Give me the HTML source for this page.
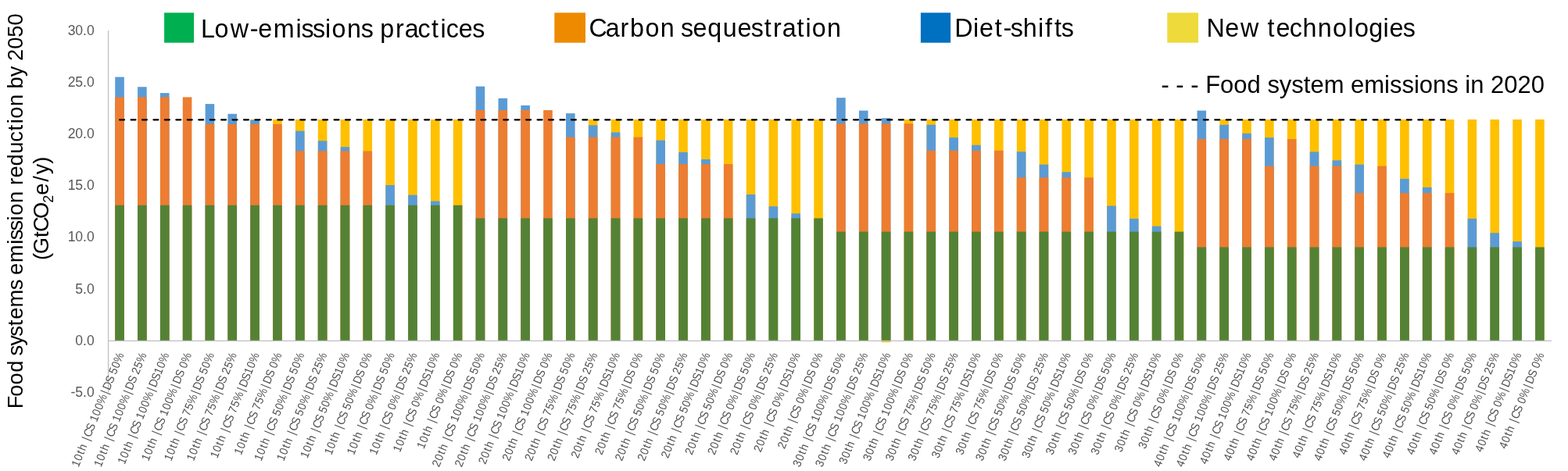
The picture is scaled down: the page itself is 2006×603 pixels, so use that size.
<!DOCTYPE html>
<html><head><meta charset="utf-8"><title>Food systems emission reduction by 2050</title>
<style>
html,body{margin:0;padding:0;background:#fff;}
body{width:2006px;height:603px;overflow:hidden;}
svg{display:block;}
text{font-family:"Liberation Sans",Arial,sans-serif;white-space:pre;}
</style></head><body>
<svg width="2006" height="603" viewBox="0 0 2006 603">
<rect width="2006" height="603" fill="#fff"/>

<rect x="147.25" y="98.57" width="11.6" height="337.63" fill="#5B9BD5"/>
<rect x="147.25" y="124.37" width="11.6" height="311.83" fill="#ED7D31"/>
<rect x="147.25" y="262.75" width="11.6" height="173.45" fill="#548235"/>
<rect x="176.09" y="111.27" width="11.6" height="324.93" fill="#5B9BD5"/>
<rect x="176.09" y="124.37" width="11.6" height="311.83" fill="#ED7D31"/>
<rect x="176.09" y="262.75" width="11.6" height="173.45" fill="#548235"/>
<rect x="204.93" y="119.08" width="11.6" height="317.12" fill="#5B9BD5"/>
<rect x="204.93" y="124.37" width="11.6" height="311.83" fill="#ED7D31"/>
<rect x="204.93" y="262.75" width="11.6" height="173.45" fill="#548235"/>
<rect x="233.77" y="124.37" width="11.6" height="311.83" fill="#ED7D31"/>
<rect x="233.77" y="262.75" width="11.6" height="173.45" fill="#548235"/>
<rect x="262.61" y="133.10" width="11.6" height="303.10" fill="#5B9BD5"/>
<rect x="262.61" y="158.90" width="11.6" height="277.30" fill="#ED7D31"/>
<rect x="262.61" y="262.75" width="11.6" height="173.45" fill="#548235"/>
<rect x="291.44" y="145.80" width="11.6" height="290.40" fill="#5B9BD5"/>
<rect x="291.44" y="158.90" width="11.6" height="277.30" fill="#ED7D31"/>
<rect x="291.44" y="262.75" width="11.6" height="173.45" fill="#548235"/>
<rect x="320.28" y="152.95" width="11.6" height="283.25" fill="#FFC000"/>
<rect x="320.28" y="153.61" width="11.6" height="282.59" fill="#5B9BD5"/>
<rect x="320.28" y="158.90" width="11.6" height="277.30" fill="#ED7D31"/>
<rect x="320.28" y="262.75" width="11.6" height="173.45" fill="#548235"/>
<rect x="349.12" y="152.95" width="11.6" height="283.25" fill="#FFC000"/>
<rect x="349.12" y="158.90" width="11.6" height="277.30" fill="#ED7D31"/>
<rect x="349.12" y="262.75" width="11.6" height="173.45" fill="#548235"/>
<rect x="377.96" y="152.95" width="11.6" height="283.25" fill="#FFC000"/>
<rect x="377.96" y="167.63" width="11.6" height="268.57" fill="#5B9BD5"/>
<rect x="377.96" y="193.43" width="11.6" height="242.77" fill="#ED7D31"/>
<rect x="377.96" y="262.75" width="11.6" height="173.45" fill="#548235"/>
<rect x="406.80" y="152.95" width="11.6" height="283.25" fill="#FFC000"/>
<rect x="406.80" y="180.33" width="11.6" height="255.87" fill="#5B9BD5"/>
<rect x="406.80" y="193.43" width="11.6" height="242.77" fill="#ED7D31"/>
<rect x="406.80" y="262.75" width="11.6" height="173.45" fill="#548235"/>
<rect x="435.64" y="152.95" width="11.6" height="283.25" fill="#FFC000"/>
<rect x="435.64" y="188.14" width="11.6" height="248.06" fill="#5B9BD5"/>
<rect x="435.64" y="193.43" width="11.6" height="242.77" fill="#ED7D31"/>
<rect x="435.64" y="262.75" width="11.6" height="173.45" fill="#548235"/>
<rect x="464.48" y="152.95" width="11.6" height="283.25" fill="#FFC000"/>
<rect x="464.48" y="193.43" width="11.6" height="242.77" fill="#ED7D31"/>
<rect x="464.48" y="262.75" width="11.6" height="173.45" fill="#548235"/>
<rect x="493.32" y="152.95" width="11.6" height="283.25" fill="#FFC000"/>
<rect x="493.32" y="236.96" width="11.6" height="199.24" fill="#5B9BD5"/>
<rect x="493.32" y="262.75" width="11.6" height="173.45" fill="#548235"/>
<rect x="522.16" y="152.95" width="11.6" height="283.25" fill="#FFC000"/>
<rect x="522.16" y="249.66" width="11.6" height="186.54" fill="#5B9BD5"/>
<rect x="522.16" y="262.75" width="11.6" height="173.45" fill="#548235"/>
<rect x="551.00" y="152.95" width="11.6" height="283.25" fill="#FFC000"/>
<rect x="551.00" y="257.46" width="11.6" height="178.74" fill="#5B9BD5"/>
<rect x="551.00" y="262.75" width="11.6" height="173.45" fill="#548235"/>
<rect x="579.84" y="152.95" width="11.6" height="283.25" fill="#FFC000"/>
<rect x="579.84" y="262.75" width="11.6" height="173.45" fill="#548235"/>
<rect x="608.67" y="110.61" width="11.6" height="325.59" fill="#5B9BD5"/>
<rect x="608.67" y="141.04" width="11.6" height="295.16" fill="#ED7D31"/>
<rect x="608.67" y="279.42" width="11.6" height="156.78" fill="#548235"/>
<rect x="637.51" y="125.82" width="11.6" height="310.38" fill="#5B9BD5"/>
<rect x="637.51" y="141.04" width="11.6" height="295.16" fill="#ED7D31"/>
<rect x="637.51" y="279.42" width="11.6" height="156.78" fill="#548235"/>
<rect x="666.35" y="134.95" width="11.6" height="301.25" fill="#5B9BD5"/>
<rect x="666.35" y="141.04" width="11.6" height="295.16" fill="#ED7D31"/>
<rect x="666.35" y="279.42" width="11.6" height="156.78" fill="#548235"/>
<rect x="695.19" y="141.04" width="11.6" height="295.16" fill="#ED7D31"/>
<rect x="695.19" y="279.42" width="11.6" height="156.78" fill="#548235"/>
<rect x="724.03" y="145.14" width="11.6" height="291.06" fill="#5B9BD5"/>
<rect x="724.03" y="175.57" width="11.6" height="260.63" fill="#ED7D31"/>
<rect x="724.03" y="279.42" width="11.6" height="156.78" fill="#548235"/>
<rect x="752.87" y="152.95" width="11.6" height="283.25" fill="#FFC000"/>
<rect x="752.87" y="160.35" width="11.6" height="275.85" fill="#5B9BD5"/>
<rect x="752.87" y="175.57" width="11.6" height="260.63" fill="#ED7D31"/>
<rect x="752.87" y="279.42" width="11.6" height="156.78" fill="#548235"/>
<rect x="781.71" y="152.95" width="11.6" height="283.25" fill="#FFC000"/>
<rect x="781.71" y="169.48" width="11.6" height="266.72" fill="#5B9BD5"/>
<rect x="781.71" y="175.57" width="11.6" height="260.63" fill="#ED7D31"/>
<rect x="781.71" y="279.42" width="11.6" height="156.78" fill="#548235"/>
<rect x="810.55" y="152.95" width="11.6" height="283.25" fill="#FFC000"/>
<rect x="810.55" y="175.57" width="11.6" height="260.63" fill="#ED7D31"/>
<rect x="810.55" y="279.42" width="11.6" height="156.78" fill="#548235"/>
<rect x="839.39" y="152.95" width="11.6" height="283.25" fill="#FFC000"/>
<rect x="839.39" y="179.67" width="11.6" height="256.53" fill="#5B9BD5"/>
<rect x="839.39" y="210.10" width="11.6" height="226.10" fill="#ED7D31"/>
<rect x="839.39" y="279.42" width="11.6" height="156.78" fill="#548235"/>
<rect x="868.22" y="152.95" width="11.6" height="283.25" fill="#FFC000"/>
<rect x="868.22" y="194.88" width="11.6" height="241.32" fill="#5B9BD5"/>
<rect x="868.22" y="210.10" width="11.6" height="226.10" fill="#ED7D31"/>
<rect x="868.22" y="279.42" width="11.6" height="156.78" fill="#548235"/>
<rect x="897.06" y="152.95" width="11.6" height="283.25" fill="#FFC000"/>
<rect x="897.06" y="204.01" width="11.6" height="232.19" fill="#5B9BD5"/>
<rect x="897.06" y="210.10" width="11.6" height="226.10" fill="#ED7D31"/>
<rect x="897.06" y="279.42" width="11.6" height="156.78" fill="#548235"/>
<rect x="925.90" y="152.95" width="11.6" height="283.25" fill="#FFC000"/>
<rect x="925.90" y="210.10" width="11.6" height="226.10" fill="#ED7D31"/>
<rect x="925.90" y="279.42" width="11.6" height="156.78" fill="#548235"/>
<rect x="954.74" y="152.95" width="11.6" height="283.25" fill="#FFC000"/>
<rect x="954.74" y="249.00" width="11.6" height="187.20" fill="#5B9BD5"/>
<rect x="954.74" y="279.42" width="11.6" height="156.78" fill="#548235"/>
<rect x="983.58" y="152.95" width="11.6" height="283.25" fill="#FFC000"/>
<rect x="983.58" y="264.21" width="11.6" height="171.99" fill="#5B9BD5"/>
<rect x="983.58" y="279.42" width="11.6" height="156.78" fill="#548235"/>
<rect x="1012.42" y="152.95" width="11.6" height="283.25" fill="#FFC000"/>
<rect x="1012.42" y="273.34" width="11.6" height="162.86" fill="#5B9BD5"/>
<rect x="1012.42" y="279.42" width="11.6" height="156.78" fill="#548235"/>
<rect x="1041.26" y="152.95" width="11.6" height="283.25" fill="#FFC000"/>
<rect x="1041.26" y="279.42" width="11.6" height="156.78" fill="#548235"/>
<rect x="1070.10" y="125.16" width="11.6" height="311.04" fill="#5B9BD5"/>
<rect x="1070.10" y="158.24" width="11.6" height="277.96" fill="#ED7D31"/>
<rect x="1070.10" y="296.62" width="11.6" height="139.58" fill="#548235"/>
<rect x="1098.94" y="141.57" width="11.6" height="294.63" fill="#5B9BD5"/>
<rect x="1098.94" y="158.24" width="11.6" height="277.96" fill="#ED7D31"/>
<rect x="1098.94" y="296.62" width="11.6" height="139.58" fill="#548235"/>
<rect x="1127.78" y="151.23" width="11.6" height="284.97" fill="#5B9BD5"/>
<rect x="1127.78" y="158.24" width="11.6" height="277.96" fill="#ED7D31"/>
<rect x="1127.78" y="296.62" width="11.6" height="139.58" fill="#548235"/>
<rect x="1127.78" y="436.90" width="11.6" height="1.3" fill="#FFC000"/>
<rect x="1156.62" y="152.95" width="11.6" height="283.25" fill="#FFC000"/>
<rect x="1156.62" y="158.24" width="11.6" height="277.96" fill="#ED7D31"/>
<rect x="1156.62" y="296.62" width="11.6" height="139.58" fill="#548235"/>
<rect x="1185.45" y="152.95" width="11.6" height="283.25" fill="#FFC000"/>
<rect x="1185.45" y="159.69" width="11.6" height="276.51" fill="#5B9BD5"/>
<rect x="1185.45" y="192.77" width="11.6" height="243.43" fill="#ED7D31"/>
<rect x="1185.45" y="296.62" width="11.6" height="139.58" fill="#548235"/>
<rect x="1214.29" y="152.95" width="11.6" height="283.25" fill="#FFC000"/>
<rect x="1214.29" y="176.10" width="11.6" height="260.10" fill="#5B9BD5"/>
<rect x="1214.29" y="192.77" width="11.6" height="243.43" fill="#ED7D31"/>
<rect x="1214.29" y="296.62" width="11.6" height="139.58" fill="#548235"/>
<rect x="1243.13" y="152.95" width="11.6" height="283.25" fill="#FFC000"/>
<rect x="1243.13" y="185.76" width="11.6" height="250.44" fill="#5B9BD5"/>
<rect x="1243.13" y="192.77" width="11.6" height="243.43" fill="#ED7D31"/>
<rect x="1243.13" y="296.62" width="11.6" height="139.58" fill="#548235"/>
<rect x="1271.97" y="152.95" width="11.6" height="283.25" fill="#FFC000"/>
<rect x="1271.97" y="192.77" width="11.6" height="243.43" fill="#ED7D31"/>
<rect x="1271.97" y="296.62" width="11.6" height="139.58" fill="#548235"/>
<rect x="1300.81" y="152.95" width="11.6" height="283.25" fill="#FFC000"/>
<rect x="1300.81" y="194.22" width="11.6" height="241.98" fill="#5B9BD5"/>
<rect x="1300.81" y="227.30" width="11.6" height="208.90" fill="#ED7D31"/>
<rect x="1300.81" y="296.62" width="11.6" height="139.58" fill="#548235"/>
<rect x="1329.65" y="152.95" width="11.6" height="283.25" fill="#FFC000"/>
<rect x="1329.65" y="210.63" width="11.6" height="225.57" fill="#5B9BD5"/>
<rect x="1329.65" y="227.30" width="11.6" height="208.90" fill="#ED7D31"/>
<rect x="1329.65" y="296.62" width="11.6" height="139.58" fill="#548235"/>
<rect x="1358.49" y="152.95" width="11.6" height="283.25" fill="#FFC000"/>
<rect x="1358.49" y="220.29" width="11.6" height="215.91" fill="#5B9BD5"/>
<rect x="1358.49" y="227.30" width="11.6" height="208.90" fill="#ED7D31"/>
<rect x="1358.49" y="296.62" width="11.6" height="139.58" fill="#548235"/>
<rect x="1387.33" y="152.95" width="11.6" height="283.25" fill="#FFC000"/>
<rect x="1387.33" y="227.30" width="11.6" height="208.90" fill="#ED7D31"/>
<rect x="1387.33" y="296.62" width="11.6" height="139.58" fill="#548235"/>
<rect x="1416.17" y="152.95" width="11.6" height="283.25" fill="#FFC000"/>
<rect x="1416.17" y="263.55" width="11.6" height="172.65" fill="#5B9BD5"/>
<rect x="1416.17" y="296.62" width="11.6" height="139.58" fill="#548235"/>
<rect x="1445.00" y="152.95" width="11.6" height="283.25" fill="#FFC000"/>
<rect x="1445.00" y="279.95" width="11.6" height="156.25" fill="#5B9BD5"/>
<rect x="1445.00" y="296.62" width="11.6" height="139.58" fill="#548235"/>
<rect x="1473.84" y="152.95" width="11.6" height="283.25" fill="#FFC000"/>
<rect x="1473.84" y="289.61" width="11.6" height="146.59" fill="#5B9BD5"/>
<rect x="1473.84" y="296.62" width="11.6" height="139.58" fill="#548235"/>
<rect x="1502.68" y="152.95" width="11.6" height="283.25" fill="#FFC000"/>
<rect x="1502.68" y="296.62" width="11.6" height="139.58" fill="#548235"/>
<rect x="1531.52" y="141.57" width="11.6" height="294.63" fill="#5B9BD5"/>
<rect x="1531.52" y="178.08" width="11.6" height="258.12" fill="#ED7D31"/>
<rect x="1531.52" y="316.47" width="11.6" height="119.73" fill="#548235"/>
<rect x="1560.36" y="152.95" width="11.6" height="283.25" fill="#FFC000"/>
<rect x="1560.36" y="159.83" width="11.6" height="276.37" fill="#5B9BD5"/>
<rect x="1560.36" y="178.08" width="11.6" height="258.12" fill="#ED7D31"/>
<rect x="1560.36" y="316.47" width="11.6" height="119.73" fill="#548235"/>
<rect x="1589.20" y="152.95" width="11.6" height="283.25" fill="#FFC000"/>
<rect x="1589.20" y="170.81" width="11.6" height="265.39" fill="#5B9BD5"/>
<rect x="1589.20" y="178.08" width="11.6" height="258.12" fill="#ED7D31"/>
<rect x="1589.20" y="316.47" width="11.6" height="119.73" fill="#548235"/>
<rect x="1618.04" y="152.95" width="11.6" height="283.25" fill="#FFC000"/>
<rect x="1618.04" y="176.10" width="11.6" height="260.10" fill="#5B9BD5"/>
<rect x="1618.04" y="212.61" width="11.6" height="223.59" fill="#ED7D31"/>
<rect x="1618.04" y="316.47" width="11.6" height="119.73" fill="#548235"/>
<rect x="1646.88" y="152.95" width="11.6" height="283.25" fill="#FFC000"/>
<rect x="1646.88" y="178.08" width="11.6" height="258.12" fill="#ED7D31"/>
<rect x="1646.88" y="316.47" width="11.6" height="119.73" fill="#548235"/>
<rect x="1675.72" y="152.95" width="11.6" height="283.25" fill="#FFC000"/>
<rect x="1675.72" y="194.36" width="11.6" height="241.84" fill="#5B9BD5"/>
<rect x="1675.72" y="212.61" width="11.6" height="223.59" fill="#ED7D31"/>
<rect x="1675.72" y="316.47" width="11.6" height="119.73" fill="#548235"/>
<rect x="1704.56" y="152.95" width="11.6" height="283.25" fill="#FFC000"/>
<rect x="1704.56" y="205.34" width="11.6" height="230.86" fill="#5B9BD5"/>
<rect x="1704.56" y="212.61" width="11.6" height="223.59" fill="#ED7D31"/>
<rect x="1704.56" y="316.47" width="11.6" height="119.73" fill="#548235"/>
<rect x="1733.39" y="152.95" width="11.6" height="283.25" fill="#FFC000"/>
<rect x="1733.39" y="210.63" width="11.6" height="225.57" fill="#5B9BD5"/>
<rect x="1733.39" y="247.14" width="11.6" height="189.06" fill="#ED7D31"/>
<rect x="1733.39" y="316.47" width="11.6" height="119.73" fill="#548235"/>
<rect x="1762.23" y="152.95" width="11.6" height="283.25" fill="#FFC000"/>
<rect x="1762.23" y="212.61" width="11.6" height="223.59" fill="#ED7D31"/>
<rect x="1762.23" y="316.47" width="11.6" height="119.73" fill="#548235"/>
<rect x="1791.07" y="152.95" width="11.6" height="283.25" fill="#FFC000"/>
<rect x="1791.07" y="228.89" width="11.6" height="207.31" fill="#5B9BD5"/>
<rect x="1791.07" y="247.14" width="11.6" height="189.06" fill="#ED7D31"/>
<rect x="1791.07" y="316.47" width="11.6" height="119.73" fill="#548235"/>
<rect x="1819.91" y="152.95" width="11.6" height="283.25" fill="#FFC000"/>
<rect x="1819.91" y="239.87" width="11.6" height="196.33" fill="#5B9BD5"/>
<rect x="1819.91" y="247.14" width="11.6" height="189.06" fill="#ED7D31"/>
<rect x="1819.91" y="316.47" width="11.6" height="119.73" fill="#548235"/>
<rect x="1848.75" y="152.95" width="11.6" height="283.25" fill="#FFC000"/>
<rect x="1848.75" y="247.14" width="11.6" height="189.06" fill="#ED7D31"/>
<rect x="1848.75" y="316.47" width="11.6" height="119.73" fill="#548235"/>
<rect x="1877.59" y="152.95" width="11.6" height="283.25" fill="#FFC000"/>
<rect x="1877.59" y="279.95" width="11.6" height="156.25" fill="#5B9BD5"/>
<rect x="1877.59" y="316.47" width="11.6" height="119.73" fill="#548235"/>
<rect x="1906.43" y="152.95" width="11.6" height="283.25" fill="#FFC000"/>
<rect x="1906.43" y="298.21" width="11.6" height="137.99" fill="#5B9BD5"/>
<rect x="1906.43" y="316.47" width="11.6" height="119.73" fill="#548235"/>
<rect x="1935.27" y="152.95" width="11.6" height="283.25" fill="#FFC000"/>
<rect x="1935.27" y="309.19" width="11.6" height="127.01" fill="#5B9BD5"/>
<rect x="1935.27" y="316.47" width="11.6" height="119.73" fill="#548235"/>
<rect x="1964.11" y="152.95" width="11.6" height="283.25" fill="#FFC000"/>
<rect x="1964.11" y="316.47" width="11.6" height="119.73" fill="#548235"/>
<line x1="138.6" y1="39.2" x2="138.6" y2="502.35" stroke="#BFBFBF" stroke-width="1.3"/>
<line x1="138" y1="436.30" x2="1985" y2="436.30" stroke="#BFBFBF" stroke-width="1.2"/>
<line x1="153.1" y1="153.3" x2="1849.0" y2="153.3" stroke="#000" stroke-width="2.2" stroke-dasharray="6 8.445" stroke-linecap="round"/>
<text transform="translate(120.70 44.80)" x="-34.07 -24.34 -14.60 -9.76" y="0.00" font-size="17.6" fill="#595959">30.0</text>
<text transform="translate(120.70 110.95)" x="-34.07 -24.34 -14.60 -9.76" y="0.00" font-size="17.6" fill="#595959">25.0</text>
<text transform="translate(120.70 177.10)" x="-34.07 -24.34 -14.60 -9.76" y="0.00" font-size="17.6" fill="#595959">20.0</text>
<text transform="translate(120.70 243.25)" x="-34.07 -24.34 -14.60 -9.76" y="0.00" font-size="17.6" fill="#595959">15.0</text>
<text transform="translate(120.70 309.40)" x="-34.07 -24.34 -14.60 -9.76" y="0.00" font-size="17.6" fill="#595959">10.0</text>
<text transform="translate(120.70 375.55)" x="-24.34 -14.60 -9.76" y="0.00" font-size="17.6" fill="#595959">5.0</text>
<text transform="translate(120.70 441.70)" x="-24.34 -14.60 -9.76" y="0.00" font-size="17.6" fill="#595959">0.0</text>
<text transform="translate(120.70 507.85)" x="-30.18 -24.34 -14.60 -9.76" y="0.00" font-size="17.6" fill="#595959">-5.0</text>
<text transform="translate(158.85 454.10) rotate(-68) scale(0.92 1.0)" x="-169.58 -160.52 -150.91 -145.30 -136.50 -130.22 -124.81 -115.52 -106.47 -102.01 -92.95 -83.88 -75.46 -60.23 -54.08 -44.06 -35.01 -30.55 -21.48 -13.06" y="0.00" font-size="15.0" fill="#505050">10th |CS 100%|DS 50%</text>
<text transform="translate(187.69 454.10) rotate(-68) scale(0.92 1.0)" x="-169.58 -160.52 -150.91 -145.30 -136.50 -130.22 -124.81 -115.52 -106.47 -102.01 -92.95 -83.88 -75.46 -60.23 -54.08 -44.06 -35.01 -30.55 -21.48 -13.06" y="0.00" font-size="15.0" fill="#505050">10th |CS 100%|DS 25%</text>
<text transform="translate(216.53 454.10) rotate(-68) scale(0.92 1.0)" x="-165.54 -156.48 -146.87 -141.26 -132.46 -126.18 -120.77 -111.48 -102.43 -97.97 -88.90 -79.84 -71.42 -56.19 -50.04 -40.02 -30.55 -21.48 -13.06" y="0.00" font-size="15.0" fill="#505050">10th |CS 100%|DS10%</text>
<text transform="translate(245.37 454.10) rotate(-68) scale(0.92 1.0)" x="-160.52 -151.46 -141.85 -136.24 -127.44 -121.16 -115.75 -106.46 -97.41 -92.95 -83.88 -74.82 -66.40 -51.17 -45.02 -35.00 -25.95 -21.48 -13.06" y="0.00" font-size="15.0" fill="#505050">10th |CS 100%|DS 0%</text>
<text transform="translate(274.21 454.10) rotate(-68) scale(0.92 1.0)" x="-160.52 -151.46 -141.85 -136.24 -127.44 -121.16 -115.75 -106.46 -97.41 -92.95 -83.88 -75.46 -60.23 -54.08 -44.06 -35.01 -30.55 -21.48 -13.06" y="0.00" font-size="15.0" fill="#505050">10th |CS 75%|DS 50%</text>
<text transform="translate(303.05 454.10) rotate(-68) scale(0.92 1.0)" x="-160.52 -151.46 -141.85 -136.24 -127.44 -121.16 -115.75 -106.46 -97.41 -92.95 -83.88 -75.46 -60.23 -54.08 -44.06 -35.01 -30.55 -21.48 -13.06" y="0.00" font-size="15.0" fill="#505050">10th |CS 75%|DS 25%</text>
<text transform="translate(331.88 454.10) rotate(-68) scale(0.92 1.0)" x="-156.48 -147.42 -137.80 -132.20 -123.39 -117.12 -111.70 -102.42 -93.37 -88.90 -79.84 -71.42 -56.19 -50.04 -40.02 -30.55 -21.48 -13.06" y="0.00" font-size="15.0" fill="#505050">10th |CS 75%|DS10%</text>
<text transform="translate(360.72 454.10) rotate(-68) scale(0.92 1.0)" x="-151.46 -142.40 -132.78 -127.18 -118.37 -112.10 -106.68 -97.40 -88.35 -83.88 -74.82 -66.40 -51.17 -45.02 -35.00 -25.95 -21.48 -13.06" y="0.00" font-size="15.0" fill="#505050">10th |CS 75%|DS 0%</text>
<text transform="translate(389.56 454.10) rotate(-68) scale(0.92 1.0)" x="-160.52 -151.46 -141.85 -136.24 -127.44 -121.16 -115.75 -106.46 -97.41 -92.95 -83.88 -75.46 -60.23 -54.08 -44.06 -35.01 -30.55 -21.48 -13.06" y="0.00" font-size="15.0" fill="#505050">10th |CS 50%|DS 50%</text>
<text transform="translate(418.40 454.10) rotate(-68) scale(0.92 1.0)" x="-160.52 -151.46 -141.85 -136.24 -127.44 -121.16 -115.75 -106.46 -97.41 -92.95 -83.88 -75.46 -60.23 -54.08 -44.06 -35.01 -30.55 -21.48 -13.06" y="0.00" font-size="15.0" fill="#505050">10th |CS 50%|DS 25%</text>
<text transform="translate(447.24 454.10) rotate(-68) scale(0.92 1.0)" x="-156.48 -147.42 -137.80 -132.20 -123.39 -117.12 -111.70 -102.42 -93.37 -88.90 -79.84 -71.42 -56.19 -50.04 -40.02 -30.55 -21.48 -13.06" y="0.00" font-size="15.0" fill="#505050">10th |CS 50%|DS10%</text>
<text transform="translate(476.08 454.10) rotate(-68) scale(0.92 1.0)" x="-151.46 -142.40 -132.78 -127.18 -118.37 -112.10 -106.68 -97.40 -88.35 -83.88 -74.82 -66.40 -51.17 -45.02 -35.00 -25.95 -21.48 -13.06" y="0.00" font-size="15.0" fill="#505050">10th |CS 50%|DS 0%</text>
<text transform="translate(504.92 454.10) rotate(-68) scale(0.92 1.0)" x="-151.46 -142.40 -132.78 -127.18 -118.37 -112.10 -106.68 -97.40 -88.35 -83.88 -75.46 -60.23 -54.08 -44.06 -35.01 -30.55 -21.48 -13.06" y="0.00" font-size="15.0" fill="#505050">10th |CS 0%|DS 50%</text>
<text transform="translate(533.76 454.10) rotate(-68) scale(0.92 1.0)" x="-151.46 -142.40 -132.78 -127.18 -118.37 -112.10 -106.68 -97.40 -88.35 -83.88 -75.46 -60.23 -54.08 -44.06 -35.01 -30.55 -21.48 -13.06" y="0.00" font-size="15.0" fill="#505050">10th |CS 0%|DS 25%</text>
<text transform="translate(562.60 454.10) rotate(-68) scale(0.92 1.0)" x="-147.42 -138.35 -128.74 -123.14 -114.33 -108.06 -102.64 -93.35 -84.31 -79.84 -71.42 -56.19 -50.04 -40.02 -30.55 -21.48 -13.06" y="0.00" font-size="15.0" fill="#505050">10th |CS 0%|DS10%</text>
<text transform="translate(591.43 454.10) rotate(-68) scale(0.92 1.0)" x="-142.40 -133.33 -123.72 -118.12 -109.31 -103.04 -97.62 -88.33 -79.29 -74.82 -66.40 -51.17 -45.02 -35.00 -25.95 -21.48 -13.06" y="0.00" font-size="15.0" fill="#505050">10th |CS 0%|DS 0%</text>
<text transform="translate(620.27 454.10) rotate(-68) scale(0.92 1.0)" x="-169.58 -160.52 -150.91 -145.30 -136.50 -130.22 -124.81 -115.52 -106.47 -102.01 -92.95 -83.88 -75.46 -60.23 -54.08 -44.06 -35.01 -30.55 -21.48 -13.06" y="0.00" font-size="15.0" fill="#505050">20th |CS 100%|DS 50%</text>
<text transform="translate(649.11 454.10) rotate(-68) scale(0.92 1.0)" x="-169.58 -160.52 -150.91 -145.30 -136.50 -130.22 -124.81 -115.52 -106.47 -102.01 -92.95 -83.88 -75.46 -60.23 -54.08 -44.06 -35.01 -30.55 -21.48 -13.06" y="0.00" font-size="15.0" fill="#505050">20th |CS 100%|DS 25%</text>
<text transform="translate(677.95 454.10) rotate(-68) scale(0.92 1.0)" x="-165.54 -156.48 -146.87 -141.26 -132.46 -126.18 -120.77 -111.48 -102.43 -97.97 -88.90 -79.84 -71.42 -56.19 -50.04 -40.02 -30.55 -21.48 -13.06" y="0.00" font-size="15.0" fill="#505050">20th |CS 100%|DS10%</text>
<text transform="translate(706.79 454.10) rotate(-68) scale(0.92 1.0)" x="-160.52 -151.46 -141.85 -136.24 -127.44 -121.16 -115.75 -106.46 -97.41 -92.95 -83.88 -74.82 -66.40 -51.17 -45.02 -35.00 -25.95 -21.48 -13.06" y="0.00" font-size="15.0" fill="#505050">20th |CS 100%|DS 0%</text>
<text transform="translate(735.63 454.10) rotate(-68) scale(0.92 1.0)" x="-160.52 -151.46 -141.85 -136.24 -127.44 -121.16 -115.75 -106.46 -97.41 -92.95 -83.88 -75.46 -60.23 -54.08 -44.06 -35.01 -30.55 -21.48 -13.06" y="0.00" font-size="15.0" fill="#505050">20th |CS 75%|DS 50%</text>
<text transform="translate(764.47 454.10) rotate(-68) scale(0.92 1.0)" x="-160.52 -151.46 -141.85 -136.24 -127.44 -121.16 -115.75 -106.46 -97.41 -92.95 -83.88 -75.46 -60.23 -54.08 -44.06 -35.01 -30.55 -21.48 -13.06" y="0.00" font-size="15.0" fill="#505050">20th |CS 75%|DS 25%</text>
<text transform="translate(793.31 454.10) rotate(-68) scale(0.92 1.0)" x="-156.48 -147.42 -137.80 -132.20 -123.39 -117.12 -111.70 -102.42 -93.37 -88.90 -79.84 -71.42 -56.19 -50.04 -40.02 -30.55 -21.48 -13.06" y="0.00" font-size="15.0" fill="#505050">20th |CS 75%|DS10%</text>
<text transform="translate(822.15 454.10) rotate(-68) scale(0.92 1.0)" x="-151.46 -142.40 -132.78 -127.18 -118.37 -112.10 -106.68 -97.40 -88.35 -83.88 -74.82 -66.40 -51.17 -45.02 -35.00 -25.95 -21.48 -13.06" y="0.00" font-size="15.0" fill="#505050">20th |CS 75%|DS 0%</text>
<text transform="translate(850.99 454.10) rotate(-68) scale(0.92 1.0)" x="-160.52 -151.46 -141.85 -136.24 -127.44 -121.16 -115.75 -106.46 -97.41 -92.95 -83.88 -75.46 -60.23 -54.08 -44.06 -35.01 -30.55 -21.48 -13.06" y="0.00" font-size="15.0" fill="#505050">20th |CS 50%|DS 50%</text>
<text transform="translate(879.82 454.10) rotate(-68) scale(0.92 1.0)" x="-160.52 -151.46 -141.85 -136.24 -127.44 -121.16 -115.75 -106.46 -97.41 -92.95 -83.88 -75.46 -60.23 -54.08 -44.06 -35.01 -30.55 -21.48 -13.06" y="0.00" font-size="15.0" fill="#505050">20th |CS 50%|DS 25%</text>
<text transform="translate(908.66 454.10) rotate(-68) scale(0.92 1.0)" x="-156.48 -147.42 -137.80 -132.20 -123.39 -117.12 -111.70 -102.42 -93.37 -88.90 -79.84 -71.42 -56.19 -50.04 -40.02 -30.55 -21.48 -13.06" y="0.00" font-size="15.0" fill="#505050">20th |CS 50%|DS10%</text>
<text transform="translate(937.50 454.10) rotate(-68) scale(0.92 1.0)" x="-151.46 -142.40 -132.78 -127.18 -118.37 -112.10 -106.68 -97.40 -88.35 -83.88 -74.82 -66.40 -51.17 -45.02 -35.00 -25.95 -21.48 -13.06" y="0.00" font-size="15.0" fill="#505050">20th |CS 50%|DS 0%</text>
<text transform="translate(966.34 454.10) rotate(-68) scale(0.92 1.0)" x="-151.46 -142.40 -132.78 -127.18 -118.37 -112.10 -106.68 -97.40 -88.35 -83.88 -75.46 -60.23 -54.08 -44.06 -35.01 -30.55 -21.48 -13.06" y="0.00" font-size="15.0" fill="#505050">20th |CS 0%|DS 50%</text>
<text transform="translate(995.18 454.10) rotate(-68) scale(0.92 1.0)" x="-151.46 -142.40 -132.78 -127.18 -118.37 -112.10 -106.68 -97.40 -88.35 -83.88 -75.46 -60.23 -54.08 -44.06 -35.01 -30.55 -21.48 -13.06" y="0.00" font-size="15.0" fill="#505050">20th |CS 0%|DS 25%</text>
<text transform="translate(1024.02 454.10) rotate(-68) scale(0.92 1.0)" x="-147.42 -138.35 -128.74 -123.14 -114.33 -108.06 -102.64 -93.35 -84.31 -79.84 -71.42 -56.19 -50.04 -40.02 -30.55 -21.48 -13.06" y="0.00" font-size="15.0" fill="#505050">20th |CS 0%|DS10%</text>
<text transform="translate(1052.86 454.10) rotate(-68) scale(0.92 1.0)" x="-142.40 -133.33 -123.72 -118.12 -109.31 -103.04 -97.62 -88.33 -79.29 -74.82 -66.40 -51.17 -45.02 -35.00 -25.95 -21.48 -13.06" y="0.00" font-size="15.0" fill="#505050">20th |CS 0%|DS 0%</text>
<text transform="translate(1081.70 454.10) rotate(-68) scale(0.92 1.0)" x="-169.58 -160.52 -150.91 -145.30 -136.50 -130.22 -124.81 -115.52 -106.47 -102.01 -92.95 -83.88 -75.46 -60.23 -54.08 -44.06 -35.01 -30.55 -21.48 -13.06" y="0.00" font-size="15.0" fill="#505050">30th |CS 100%|DS 50%</text>
<text transform="translate(1110.54 454.10) rotate(-68) scale(0.92 1.0)" x="-169.58 -160.52 -150.91 -145.30 -136.50 -130.22 -124.81 -115.52 -106.47 -102.01 -92.95 -83.88 -75.46 -60.23 -54.08 -44.06 -35.01 -30.55 -21.48 -13.06" y="0.00" font-size="15.0" fill="#505050">30th |CS 100%|DS 25%</text>
<text transform="translate(1139.38 454.10) rotate(-68) scale(0.92 1.0)" x="-165.54 -156.48 -146.87 -141.26 -132.46 -126.18 -120.77 -111.48 -102.43 -97.97 -88.90 -79.84 -71.42 -56.19 -50.04 -40.02 -30.55 -21.48 -13.06" y="0.00" font-size="15.0" fill="#505050">30th |CS 100%|DS10%</text>
<text transform="translate(1168.21 454.10) rotate(-68) scale(0.92 1.0)" x="-160.52 -151.46 -141.85 -136.24 -127.44 -121.16 -115.75 -106.46 -97.41 -92.95 -83.88 -74.82 -66.40 -51.17 -45.02 -35.00 -25.95 -21.48 -13.06" y="0.00" font-size="15.0" fill="#505050">30th |CS 100%|DS 0%</text>
<text transform="translate(1197.05 454.10) rotate(-68) scale(0.92 1.0)" x="-160.52 -151.46 -141.85 -136.24 -127.44 -121.16 -115.75 -106.46 -97.41 -92.95 -83.88 -75.46 -60.23 -54.08 -44.06 -35.01 -30.55 -21.48 -13.06" y="0.00" font-size="15.0" fill="#505050">30th |CS 75%|DS 50%</text>
<text transform="translate(1225.89 454.10) rotate(-68) scale(0.92 1.0)" x="-160.52 -151.46 -141.85 -136.24 -127.44 -121.16 -115.75 -106.46 -97.41 -92.95 -83.88 -75.46 -60.23 -54.08 -44.06 -35.01 -30.55 -21.48 -13.06" y="0.00" font-size="15.0" fill="#505050">30th |CS 75%|DS 25%</text>
<text transform="translate(1254.73 454.10) rotate(-68) scale(0.92 1.0)" x="-156.48 -147.42 -137.80 -132.20 -123.39 -117.12 -111.70 -102.42 -93.37 -88.90 -79.84 -71.42 -56.19 -50.04 -40.02 -30.55 -21.48 -13.06" y="0.00" font-size="15.0" fill="#505050">30th |CS 75%|DS10%</text>
<text transform="translate(1283.57 454.10) rotate(-68) scale(0.92 1.0)" x="-151.46 -142.40 -132.78 -127.18 -118.37 -112.10 -106.68 -97.40 -88.35 -83.88 -74.82 -66.40 -51.17 -45.02 -35.00 -25.95 -21.48 -13.06" y="0.00" font-size="15.0" fill="#505050">30th |CS 75%|DS 0%</text>
<text transform="translate(1312.41 454.10) rotate(-68) scale(0.92 1.0)" x="-160.52 -151.46 -141.85 -136.24 -127.44 -121.16 -115.75 -106.46 -97.41 -92.95 -83.88 -75.46 -60.23 -54.08 -44.06 -35.01 -30.55 -21.48 -13.06" y="0.00" font-size="15.0" fill="#505050">30th |CS 50%|DS 50%</text>
<text transform="translate(1341.25 454.10) rotate(-68) scale(0.92 1.0)" x="-160.52 -151.46 -141.85 -136.24 -127.44 -121.16 -115.75 -106.46 -97.41 -92.95 -83.88 -75.46 -60.23 -54.08 -44.06 -35.01 -30.55 -21.48 -13.06" y="0.00" font-size="15.0" fill="#505050">30th |CS 50%|DS 25%</text>
<text transform="translate(1370.09 454.10) rotate(-68) scale(0.92 1.0)" x="-156.48 -147.42 -137.80 -132.20 -123.39 -117.12 -111.70 -102.42 -93.37 -88.90 -79.84 -71.42 -56.19 -50.04 -40.02 -30.55 -21.48 -13.06" y="0.00" font-size="15.0" fill="#505050">30th |CS 50%|DS10%</text>
<text transform="translate(1398.93 454.10) rotate(-68) scale(0.92 1.0)" x="-151.46 -142.40 -132.78 -127.18 -118.37 -112.10 -106.68 -97.40 -88.35 -83.88 -74.82 -66.40 -51.17 -45.02 -35.00 -25.95 -21.48 -13.06" y="0.00" font-size="15.0" fill="#505050">30th |CS 50%|DS 0%</text>
<text transform="translate(1427.77 454.10) rotate(-68) scale(0.92 1.0)" x="-151.46 -142.40 -132.78 -127.18 -118.37 -112.10 -106.68 -97.40 -88.35 -83.88 -75.46 -60.23 -54.08 -44.06 -35.01 -30.55 -21.48 -13.06" y="0.00" font-size="15.0" fill="#505050">30th |CS 0%|DS 50%</text>
<text transform="translate(1456.60 454.10) rotate(-68) scale(0.92 1.0)" x="-151.46 -142.40 -132.78 -127.18 -118.37 -112.10 -106.68 -97.40 -88.35 -83.88 -75.46 -60.23 -54.08 -44.06 -35.01 -30.55 -21.48 -13.06" y="0.00" font-size="15.0" fill="#505050">30th |CS 0%|DS 25%</text>
<text transform="translate(1485.44 454.10) rotate(-68) scale(0.92 1.0)" x="-147.42 -138.35 -128.74 -123.14 -114.33 -108.06 -102.64 -93.35 -84.31 -79.84 -71.42 -56.19 -50.04 -40.02 -30.55 -21.48 -13.06" y="0.00" font-size="15.0" fill="#505050">30th |CS 0%|DS10%</text>
<text transform="translate(1514.28 454.10) rotate(-68) scale(0.92 1.0)" x="-142.40 -133.33 -123.72 -118.12 -109.31 -103.04 -97.62 -88.33 -79.29 -74.82 -66.40 -51.17 -45.02 -35.00 -25.95 -21.48 -13.06" y="0.00" font-size="15.0" fill="#505050">30th |CS 0%|DS 0%</text>
<text transform="translate(1543.12 454.10) rotate(-68) scale(0.92 1.0)" x="-169.58 -160.52 -150.91 -145.30 -136.50 -130.22 -124.81 -115.52 -106.47 -102.01 -92.95 -83.88 -75.46 -60.23 -54.08 -44.06 -35.01 -30.55 -21.48 -13.06" y="0.00" font-size="15.0" fill="#505050">40th |CS 100%|DS 50%</text>
<text transform="translate(1571.96 454.10) rotate(-68) scale(0.92 1.0)" x="-169.58 -160.52 -150.91 -145.30 -136.50 -130.22 -124.81 -115.52 -106.47 -102.01 -92.95 -83.88 -75.46 -60.23 -54.08 -44.06 -35.01 -30.55 -21.48 -13.06" y="0.00" font-size="15.0" fill="#505050">40th |CS 100%|DS 25%</text>
<text transform="translate(1600.80 454.10) rotate(-68) scale(0.92 1.0)" x="-165.54 -156.48 -146.87 -141.26 -132.46 -126.18 -120.77 -111.48 -102.43 -97.97 -88.90 -79.84 -71.42 -56.19 -50.04 -40.02 -30.55 -21.48 -13.06" y="0.00" font-size="15.0" fill="#505050">40th |CS 100%|DS10%</text>
<text transform="translate(1629.64 454.10) rotate(-68) scale(0.92 1.0)" x="-160.52 -151.46 -141.85 -136.24 -127.44 -121.16 -115.75 -106.46 -97.41 -92.95 -83.88 -75.46 -60.23 -54.08 -44.06 -35.01 -30.55 -21.48 -13.06" y="0.00" font-size="15.0" fill="#505050">40th |CS 75%|DS 50%</text>
<text transform="translate(1658.48 454.10) rotate(-68) scale(0.92 1.0)" x="-160.52 -151.46 -141.85 -136.24 -127.44 -121.16 -115.75 -106.46 -97.41 -92.95 -83.88 -74.82 -66.40 -51.17 -45.02 -35.00 -25.95 -21.48 -13.06" y="0.00" font-size="15.0" fill="#505050">40th |CS 100%|DS 0%</text>
<text transform="translate(1687.32 454.10) rotate(-68) scale(0.92 1.0)" x="-160.52 -151.46 -141.85 -136.24 -127.44 -121.16 -115.75 -106.46 -97.41 -92.95 -83.88 -75.46 -60.23 -54.08 -44.06 -35.01 -30.55 -21.48 -13.06" y="0.00" font-size="15.0" fill="#505050">40th |CS 75%|DS 25%</text>
<text transform="translate(1716.16 454.10) rotate(-68) scale(0.92 1.0)" x="-156.48 -147.42 -137.80 -132.20 -123.39 -117.12 -111.70 -102.42 -93.37 -88.90 -79.84 -71.42 -56.19 -50.04 -40.02 -30.55 -21.48 -13.06" y="0.00" font-size="15.0" fill="#505050">40th |CS 75%|DS10%</text>
<text transform="translate(1744.99 454.10) rotate(-68) scale(0.92 1.0)" x="-160.52 -151.46 -141.85 -136.24 -127.44 -121.16 -115.75 -106.46 -97.41 -92.95 -83.88 -75.46 -60.23 -54.08 -44.06 -35.01 -30.55 -21.48 -13.06" y="0.00" font-size="15.0" fill="#505050">40th |CS 50%|DS 50%</text>
<text transform="translate(1773.83 454.10) rotate(-68) scale(0.92 1.0)" x="-151.46 -142.40 -132.78 -127.18 -118.37 -112.10 -106.68 -97.40 -88.35 -83.88 -74.82 -66.40 -51.17 -45.02 -35.00 -25.95 -21.48 -13.06" y="0.00" font-size="15.0" fill="#505050">40th |CS 75%|DS 0%</text>
<text transform="translate(1802.67 454.10) rotate(-68) scale(0.92 1.0)" x="-160.52 -151.46 -141.85 -136.24 -127.44 -121.16 -115.75 -106.46 -97.41 -92.95 -83.88 -75.46 -60.23 -54.08 -44.06 -35.01 -30.55 -21.48 -13.06" y="0.00" font-size="15.0" fill="#505050">40th |CS 50%|DS 25%</text>
<text transform="translate(1831.51 454.10) rotate(-68) scale(0.92 1.0)" x="-156.48 -147.42 -137.80 -132.20 -123.39 -117.12 -111.70 -102.42 -93.37 -88.90 -79.84 -71.42 -56.19 -50.04 -40.02 -30.55 -21.48 -13.06" y="0.00" font-size="15.0" fill="#505050">40th |CS 50%|DS10%</text>
<text transform="translate(1860.35 454.10) rotate(-68) scale(0.92 1.0)" x="-151.46 -142.40 -132.78 -127.18 -118.37 -112.10 -106.68 -97.40 -88.35 -83.88 -74.82 -66.40 -51.17 -45.02 -35.00 -25.95 -21.48 -13.06" y="0.00" font-size="15.0" fill="#505050">40th |CS 50%|DS 0%</text>
<text transform="translate(1889.19 454.10) rotate(-68) scale(0.92 1.0)" x="-151.46 -142.40 -132.78 -127.18 -118.37 -112.10 -106.68 -97.40 -88.35 -83.88 -75.46 -60.23 -54.08 -44.06 -35.01 -30.55 -21.48 -13.06" y="0.00" font-size="15.0" fill="#505050">40th |CS 0%|DS 50%</text>
<text transform="translate(1918.03 454.10) rotate(-68) scale(0.92 1.0)" x="-151.46 -142.40 -132.78 -127.18 -118.37 -112.10 -106.68 -97.40 -88.35 -83.88 -75.46 -60.23 -54.08 -44.06 -35.01 -30.55 -21.48 -13.06" y="0.00" font-size="15.0" fill="#505050">40th |CS 0%|DS 25%</text>
<text transform="translate(1946.87 454.10) rotate(-68) scale(0.92 1.0)" x="-147.42 -138.35 -128.74 -123.14 -114.33 -108.06 -102.64 -93.35 -84.31 -79.84 -71.42 -56.19 -50.04 -40.02 -30.55 -21.48 -13.06" y="0.00" font-size="15.0" fill="#505050">40th |CS 0%|DS10%</text>
<text transform="translate(1975.71 454.10) rotate(-68) scale(0.92 1.0)" x="-142.40 -133.33 -123.72 -118.12 -109.31 -103.04 -97.62 -88.33 -79.29 -74.82 -66.40 -51.17 -45.02 -35.00 -25.95 -21.48 -13.06" y="0.00" font-size="15.0" fill="#505050">40th |CS 0%|DS 0%</text>
<text transform="translate(28.60 521.80) rotate(-90) scale(1.0 1.045)" x="-1.47 14.03 29.39 45.13 60.16 66.36 78.97 91.04 104.65 112.96 128.25 150.58 162.84 169.86 185.46 209.17 214.66 226.35 239.42 246.18 261.92 276.95 284.79 294.40 309.29 325.00 339.95 354.31 363.51 370.04 385.78 400.82 408.25 423.64 436.67 443.83 458.98 474.14 489.29" y="0.00" font-size="27.3" fill="#000">Food systems emission reduction by 2050</text>
<text transform="translate(62.30 333.10) rotate(-90) scale(1.0 1.045)" x="-0.01 7.88 29.14 36.06 53.17" y="0.00" font-size="27.3" fill="#000">(GtCO</text>
<text transform="translate(67.60 333.10) rotate(-90) scale(1.0 1.045)" x="73.43" y="0.00" font-size="18.0" fill="#000">2</text>
<text transform="translate(62.30 333.10) rotate(-90) scale(1.0 1.045)" x="83.30 100.32 109.82 123.40" y="0.00" font-size="27.3" fill="#000">e/y)</text>
<rect x="210.1" y="16.3" width="38.0" height="38.4" fill="#00B050"/>
<text transform="translate(258.09 47.90) scale(0.95 1.0)" x="-1.27 17.17 38.51 64.85 75.87 96.39 126.78 134.14 149.36 166.16 175.21 195.69 214.48 230.26 240.15 260.95 273.26 290.97 309.49 321.42 329.11 346.06 364.31" y="0.00" font-size="34.0" fill="#000">Low-emissions practices</text>
<rect x="709.3" y="16.3" width="39.7" height="38.4" fill="#ED8A00"/>
<text transform="translate(755.22 47.40) scale(0.95 1.0)" x="-1.94 20.52 40.36 53.52 73.94 94.36 113.66 121.86 138.14 157.98 178.36 198.20 216.39 234.25 246.13 258.39 278.11 289.65 298.36 318.78" y="0.00" font-size="34.0" fill="#000">Carbon sequestration</text>
<rect x="1177.9" y="16.3" width="38.2" height="38.4" fill="#0070C0"/>
<text transform="translate(1221.48 47.00) scale(0.95 1.0)" x="-0.30 24.65 33.13 54.08 65.42 74.96 91.85 112.23 121.69 134.16 143.57" y="0.00" font-size="34.0" fill="#000">Diet-shifts</text>
<rect x="1493.3" y="16.3" width="39.7" height="38.4" fill="#EEDA3B"/>
<text transform="translate(1543.35 46.90) scale(0.95 1.0)" x="0.23 25.20 45.86 71.46 82.33 93.72 112.10 129.51 149.87 170.26 190.61 199.59 218.93 238.17 246.58 264.75" y="0.00" font-size="34.0" fill="#000">New technologies</text>
<text x="1485.44" y="119.1" font-size="30.98" fill="#000">- - - Food system emissions in 2020</text>
</svg>
</body></html>
